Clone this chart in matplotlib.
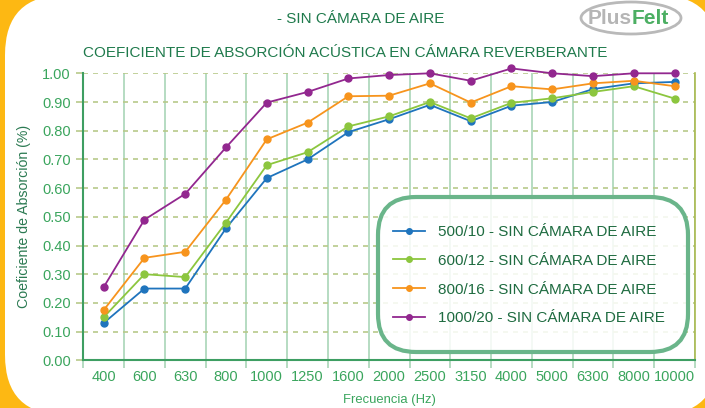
import numpy as np
import matplotlib
matplotlib.use("Agg")
import matplotlib.pyplot as plt
from matplotlib.patches import FancyBboxPatch, Ellipse
from matplotlib.lines import Line2D

plt.rcParams['font.family'] = ['Liberation Sans', 'DejaVu Sans']

# data
freqs = ['400', '600', '630', '800', '1000', '1250', '1600', '2000',
         '2500', '3150', '4000', '5000', '6300', '8000', '10000']
s500 = [0.13, 0.25, 0.25, 0.46, 0.635, 0.70, 0.795, 0.84, 0.89, 0.833,
        0.887, 0.90, 0.945, 0.965, 0.97]
s600 = [0.15, 0.30, 0.29, 0.48, 0.68, 0.725, 0.815, 0.85, 0.90, 0.843,
        0.897, 0.913, 0.935, 0.955, 0.912]
s800 = [0.175, 0.357, 0.378, 0.56, 0.77, 0.828, 0.92, 0.922, 0.965, 0.898,
        0.955, 0.944, 0.965, 0.974, 0.955]
s1000 = [0.255, 0.49, 0.58, 0.742, 0.898, 0.935, 0.982, 0.994, 1.0, 0.974,
         1.017, 1.0, 0.99, 1.0, 1.0]
labels = ['500/10 - SIN CÁMARA DE AIRE', '600/12 - SIN CÁMARA DE AIRE',
          '800/16 - SIN CÁMARA DE AIRE', '1000/20 - SIN CÁMARA DE AIRE']
colors = ['#1f74bd', '#8cc63e', '#f7941d', '#92278f']
yticks = np.arange(0, 1.01, 0.1)

W, H = 705, 408
fig = plt.figure(figsize=(W / 100, H / 100), dpi=100, facecolor='#fdb813')

# background in pixel coords: white rounded panel + logo
bg = fig.add_axes([0, 0, 1, 1], zorder=-1)
bg.set_xlim(0, W)
bg.set_ylim(H, 0)
bg.axis('off')
bg.add_patch(FancyBboxPatch((5, -5), 713, 420, boxstyle='round,pad=0,rounding_size=60',
                            facecolor='white', edgecolor='none'))
bg.add_patch(Ellipse((631, 18), 100, 32, facecolor='none', edgecolor='#b9b9b9', lw=2))
bg.text(632, 19, 'Plus', ha='right', va='center', fontsize=15, color='#b5b5b5',
        fontweight='bold')
bg.text(632, 19, 'Felt', ha='left', va='center', fontsize=15, color='#4caf63',
        fontweight='bold')

# main chart
ax = fig.add_axes([83.3 / W, 1 - 360.3 / H, (695 - 83.3) / W, (360.3 - 73.3) / H])
ax.set_facecolor('none')
x = np.arange(len(freqs))
for ys, c in zip([s500, s600, s800, s1000], colors):
    ax.plot(x, ys, color=c, lw=1.3, marker='o', ms=5, clip_on=False, zorder=3)

ax.set_xlim(-0.5, len(freqs) - 0.5)
ax.set_ylim(0, 1.0)
ax.set_xticks(x)
ax.set_xticklabels(freqs)
ax.set_xticks(np.arange(len(freqs) + 1) - 0.5, minor=True)
ax.set_yticks(yticks)
ax.set_yticklabels([f'{v:.2f}' for v in yticks])

ax.tick_params(axis='x', which='major', length=0, pad=7, labelsize=10.5, labelcolor='#3aa55d')
ax.tick_params(axis='x', which='minor', length=6, color='#a9d6b8', width=1.2)
ax.tick_params(axis='y', length=5, color='#b7c98a', width=1.2, pad=4,
               labelsize=10.5, labelcolor='#3aa55d')

ax.grid(axis='x', which='minor', color='#a9d6b8', lw=1.2, ls='-')
ax.grid(axis='y', which='major', color='#b7c98a', lw=1.2, ls=(0, (3, 3)))
ax.set_axisbelow(True)

ax.spines['top'].set_visible(False)
ax.spines['left'].set_color('#3e9e62')
ax.spines['left'].set_linewidth(1.5)
ax.spines['bottom'].set_color('#3e9e62')
ax.spines['bottom'].set_linewidth(1.5)
ax.spines['right'].set_color('#a9b94e')
ax.spines['right'].set_linewidth(1.2)

ax.set_ylabel('Coeficiente de Absorción (%)', fontsize=10.2, color='#2b7a52', labelpad=8)
ax.set_xlabel('Frecuencia (Hz)', fontsize=9.4, color='#3aa55d', labelpad=7)

fig.text(361 / W, 1 - 19 / H, '- SIN CÁMARA DE AIRE', ha='center', va='center',
         fontsize=11, color='#1f7a4c')
fig.text(83 / W, 1 - 53 / H, 'COEFICIENTE DE ABSORCIÓN ACÚSTICA EN CÁMARA REVERBERANTE',
         ha='left', va='center', fontsize=11, color='#1f7a4c')

# legend frame on top of the grid
ov = fig.add_axes([0, 0, 1, 1], zorder=2)
ov.set_xlim(0, W)
ov.set_ylim(H, 0)
ov.axis('off')
ov.add_patch(FancyBboxPatch((378, 197), 310, 155, boxstyle='round,pad=0,rounding_size=38',
                            facecolor=(1, 1, 1, 0.85), edgecolor='#6ab58a', lw=3))

handles = [Line2D([], [], color=c, lw=1.3, marker='o', ms=4) for c in colors]
leg = fig.legend(handles, labels, loc='upper left', bbox_to_anchor=(393 / W, 1 - 225 / H),
                 frameon=False, fontsize=11, handlelength=2.1, handletextpad=0.85,
                 labelspacing=0.97, borderpad=0, borderaxespad=0)
for t in leg.get_texts():
    t.set_color('#1e6b40')
leg.set_zorder(5)

fig.savefig('out.png', dpi=100, facecolor=fig.get_facecolor())
